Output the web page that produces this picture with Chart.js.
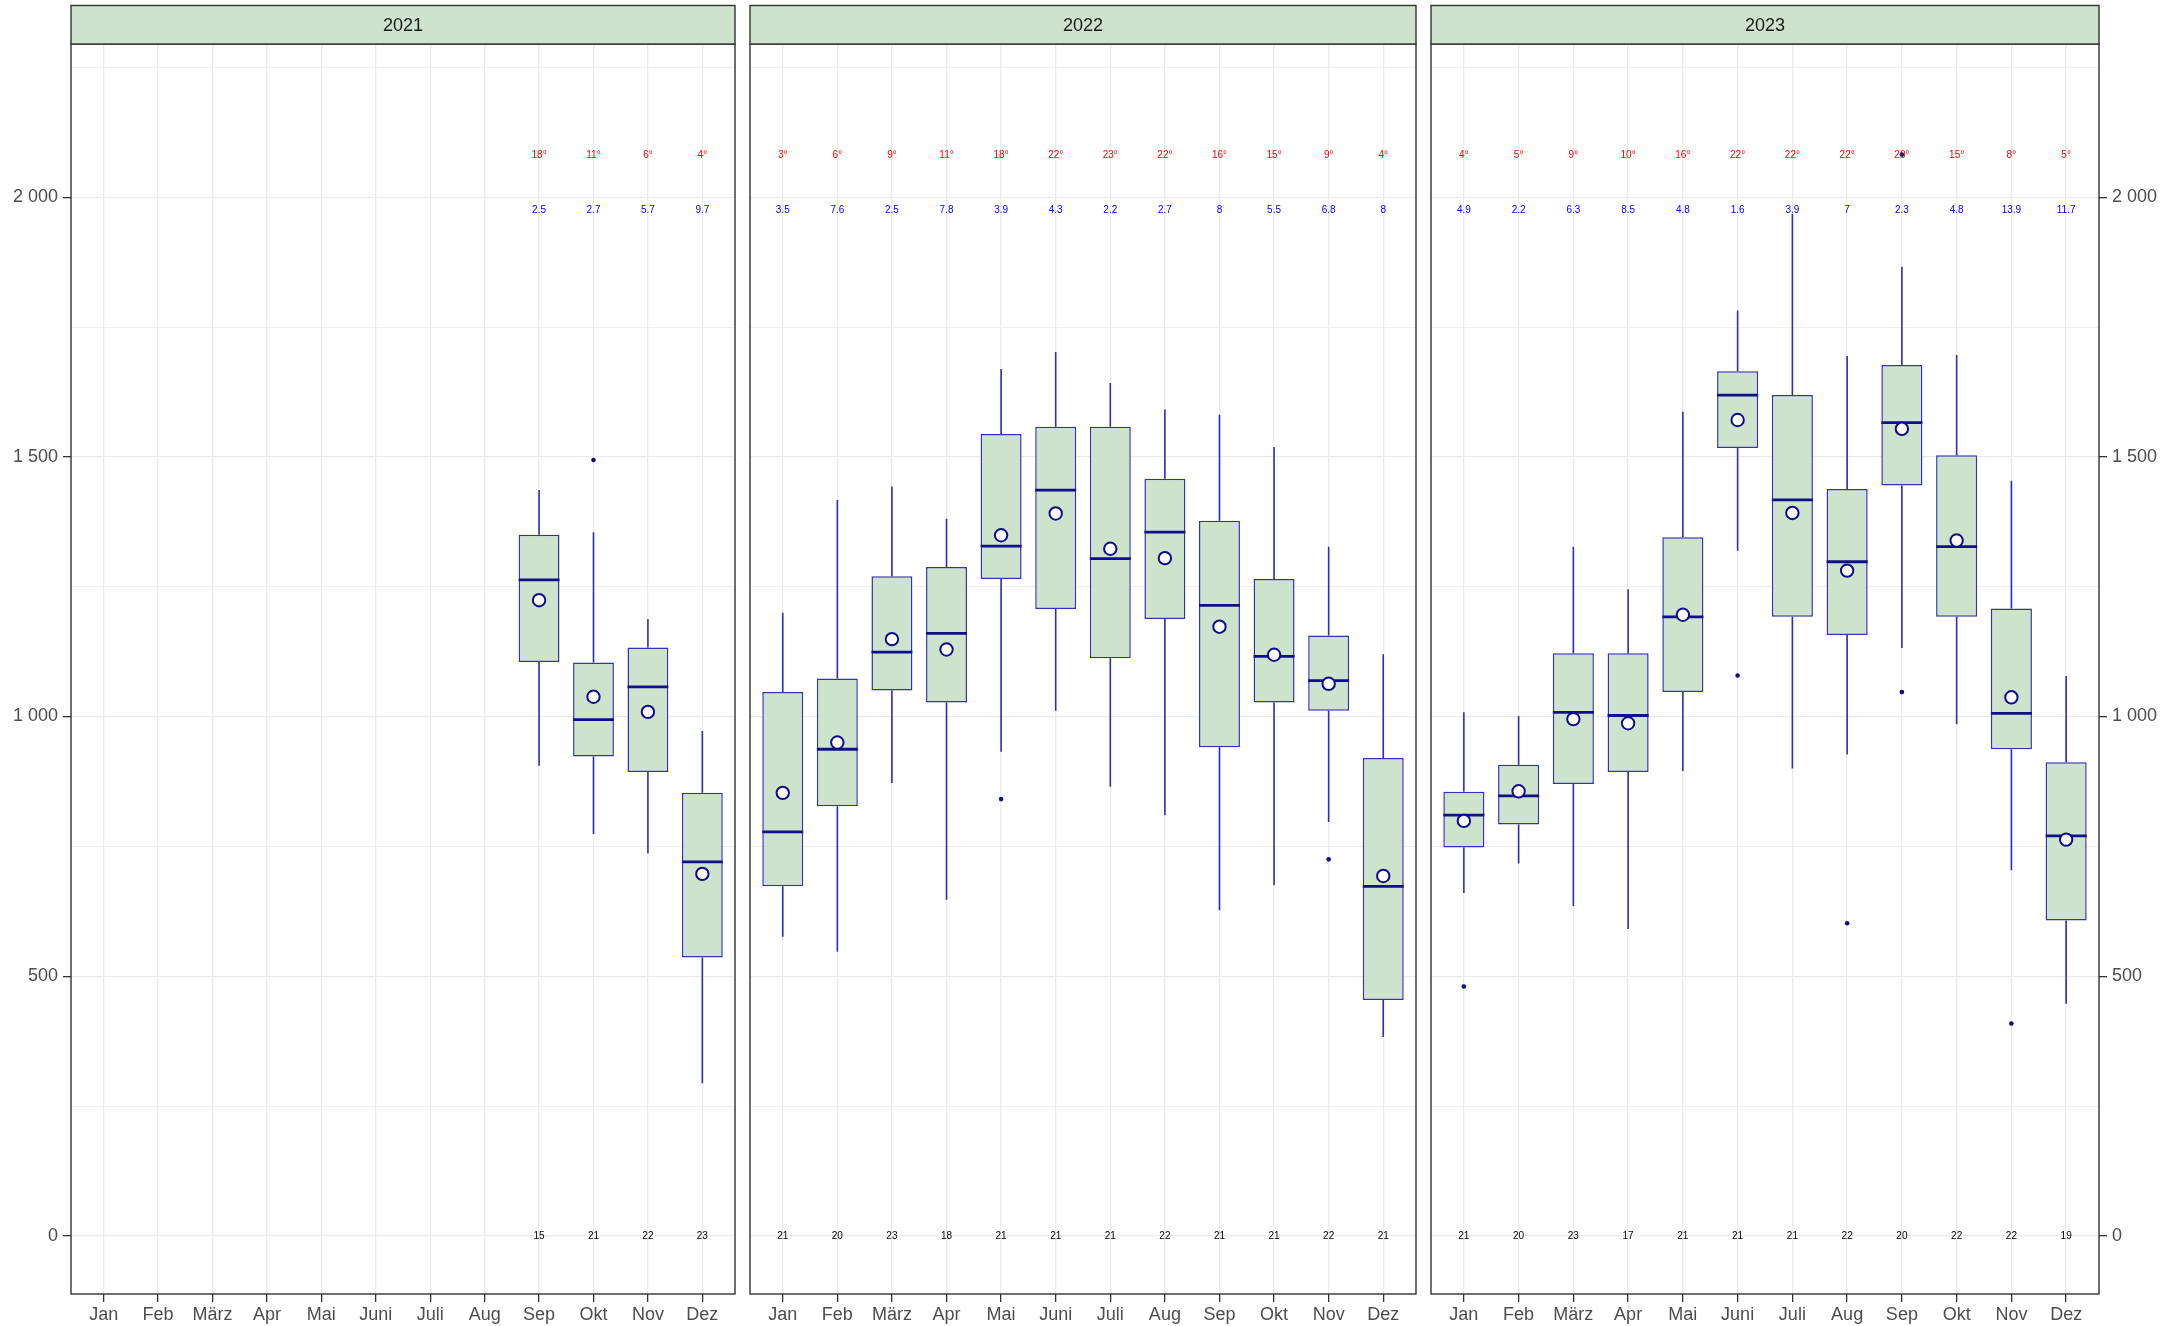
<!DOCTYPE html>
<html><head><meta charset="utf-8">
<script src="https://cdn.jsdelivr.net/npm/chart.js@4/dist/chart.umd.min.js"></script>
<style>
html,body{margin:0;padding:0;background:#fff;}
#wrap{position:relative;width:2175px;height:1326px;}
canvas{position:absolute;left:0;top:0;}
</style></head><body><div id="wrap">
<canvas id="c0" width="2175" height="1326"></canvas>
<canvas id="c1" width="2175" height="1326"></canvas>
<canvas id="c2" width="2175" height="1326"></canvas>
</div>
<script>
// ---------- data ----------
const months = ['Jan','Feb','März','Apr','Mai','Juni','Juli','Aug','Sep','Okt','Nov','Dez'];
const years = ['2021','2022','2023'];
const yTickValues = [0, 500, 1000, 1500, 2000];

const low2021  = [null,null,null,null,null,null,null,null, 905, 774, 736, 294];
const q1_2021  = [null,null,null,null,null,null,null,null,1105, 923, 893, 536];
const med2021  = [null,null,null,null,null,null,null,null,1263, 994,1057, 720];
const q3_2021  = [null,null,null,null,null,null,null,null,1350,1104,1133, 853];
const high2021 = [null,null,null,null,null,null,null,null,1436,1355,1188, 972];
const mean2021 = [null,null,null,null,null,null,null,null,1224,1038,1009, 697];
const out2021  = [['Okt',1494]];
const temp2021 = [null,null,null,null,null,null,null,null,18,11,6,4];
const val2021  = [null,null,null,null,null,null,null,null,'2.5','2.7','5.7','9.7'];
const n2021    = [null,null,null,null,null,null,null,null,15,21,22,23];

const low2022  = [ 576, 547, 872, 647, 932,1011, 865, 810, 627, 675, 797, 383];
const q1_2022  = [ 673, 827,1050,1027,1265,1207,1112,1188, 941,1027,1011, 454];
const med2022  = [ 778, 937,1124,1160,1328,1436,1304,1355,1214,1116,1069, 673];
const q3_2022  = [1047,1073,1270,1288,1544,1558,1558,1458,1377,1265,1156, 920];
const high2022 = [1200,1417,1443,1381,1669,1702,1642,1591,1581,1519,1327,1120];
const mean2022 = [ 853, 950,1149,1129,1349,1391,1323,1305,1173,1119,1063, 693];
const out2022  = [['Mai',841],['Nov',725]];
const temp2022 = [3,6,9,11,18,22,23,22,16,15,9,4];
const val2022  = ['3.5','7.6','2.5','7.8','3.9','4.3','2.2','2.7','8','5.5','6.8','8'];
const n2022    = [21,20,23,18,21,21,21,22,21,21,22,21];

const low2023  = [ 660, 717, 635, 591, 895,1319, 900, 927,1132, 985, 704, 447];
const q1_2023  = [ 748, 792, 870, 893,1047,1517,1192,1157,1445,1192, 937, 607];
const med2023  = [ 810, 847,1008,1002,1192,1619,1417,1298,1566,1327,1006, 770];
const q3_2023  = [ 855, 907,1122,1122,1345,1665,1619,1438,1677,1503,1208, 912];
const high2023 = [1008,1001,1327,1245,1587,1782,1968,1694,1866,1696,1454,1078];
const mean2023 = [ 799, 856, 995, 987,1196,1571,1392,1281,1554,1339,1037, 763];
const out2023  = [['Jan',480],['Juni',1079],['Aug',602],['Sep',1047],['Sep',2082],['Nov',409]];
const temp2023 = [4,5,9,10,16,22,22,22,20,15,8,5];
const val2023  = ['4.9','2.2','6.3','8.5','4.8','1.6','3.9','7','2.3','4.8','13.9','11.7'];
const n2023    = [21,20,23,17,21,21,21,22,20,22,22,19];

// label rows (data-space heights)
const tempLabelY = 2080;
const valLabelY = 1975;
const countLabelY = 0;

const yearData = [
  {low:low2021, q1:q1_2021, med:med2021, q3:q3_2021, high:high2021, mean:mean2021, out:out2021, temp:temp2021, val:val2021, n:n2021},
  {low:low2022, q1:q1_2022, med:med2022, q3:q3_2022, high:high2022, mean:mean2022, out:out2022, temp:temp2022, val:val2022, n:n2022},
  {low:low2023, q1:q1_2023, med:med2023, q3:q3_2023, high:high2023, mean:mean2023, out:out2023, temp:temp2023, val:val2023, n:n2023}
];

// ---------- layout / style ----------
const W = 2175, H = 1326;
const panelLeft = [71, 750, 1431];
const panelRight = [735, 1416, 2099];
const panelTop = 44, stripTop = 5.5, xAxisH = 32;
const FONT = '"Liberation Sans", Arial, Helvetica, sans-serif';
const C = {
  fill: '#cde3cb', boxLine: '#3232b4', whisker: '#2e2eb8', median: '#10108c',
  meanLine: '#0c0c8c', outlier: '#0c0c8c', grid: '#ebebeb', frame: '#333333',
  tick: '#4d4d4d', strip: '#cde3cb', stripText: '#1a1a1a'
};

function fmt(v){
  if (v >= 1000) return Math.floor(v/1000) + ' ' + String(v % 1000).padStart(3,'0');
  return String(v);
}

const extras = {
  id: 'extras',
  afterDatasetDraw(chart, args) {
    if (args.index !== 0) return;
    const Y = chart.options.plugins.extras.data;
    const xs = chart.scales.x, ys = chart.scales.y, ctx = chart.ctx;
    const meta = chart.getDatasetMeta(0);
    const idx = chart.data.datasets[0].data.map(d => d.x);
    ctx.save();
    meta.data.forEach((el, j) => {
      const i = idx[j];
      const x = xs.getPixelForValue(i);
      const half = el.width / 2;
      ctx.strokeStyle = C.whisker; ctx.lineWidth = 1.6;
      ctx.beginPath();
      ctx.moveTo(x, ys.getPixelForValue(Y.q3[i])); ctx.lineTo(x, ys.getPixelForValue(Y.high[i]));
      ctx.moveTo(x, ys.getPixelForValue(Y.q1[i])); ctx.lineTo(x, ys.getPixelForValue(Y.low[i]));
      ctx.stroke();
      ctx.strokeStyle = C.median; ctx.lineWidth = 2.8;
      ctx.beginPath();
      const ym = ys.getPixelForValue(Y.med[i]);
      ctx.moveTo(x - half, ym); ctx.lineTo(x + half, ym);
      ctx.stroke();
    });
    ctx.restore();
  },
  afterDraw(chart) {
    const Y = chart.options.plugins.extras.data;
    const title = chart.options.plugins.extras.title;
    const xs = chart.scales.x, ys = chart.scales.y, ctx = chart.ctx;
    const a = chart.chartArea;
    ctx.save();
    ctx.font = '10px ' + FONT; ctx.textAlign = 'center'; ctx.textBaseline = 'middle';
    months.forEach((m, i) => {
      const x = xs.getPixelForValue(i);
      if (Y.temp[i] != null) { ctx.fillStyle = '#ff0000'; ctx.fillText(Y.temp[i] + '°', x, ys.getPixelForValue(tempLabelY)); }
      if (Y.val[i] != null) { ctx.fillStyle = '#0000ff'; ctx.fillText(Y.val[i], x, ys.getPixelForValue(valLabelY)); }
      if (Y.n[i] != null) { ctx.fillStyle = '#000000'; ctx.fillText(String(Y.n[i]), x, ys.getPixelForValue(countLabelY)); }
    });
    ctx.strokeStyle = C.frame; ctx.lineWidth = 1.4;
    ctx.strokeRect(a.left, a.top, a.right - a.left, a.bottom - a.top);
    ctx.fillStyle = C.strip;
    ctx.fillRect(a.left, stripTop, a.right - a.left, a.top - stripTop);
    ctx.strokeRect(a.left, stripTop, a.right - a.left, a.top - stripTop);
    ctx.fillStyle = C.stripText; ctx.font = '18px ' + FONT;
    ctx.fillText(title, (a.left + a.right) / 2, (stripTop + a.top) / 2 + 1);
    ctx.restore();
  }
};

function makeChart(k) {
  const Y = yearData[k];
  const boxes = [], means = [], outl = [];
  months.forEach((m, i) => {
    if (Y.q1[i] == null) return;
    boxes.push({x: i, y: [Y.q1[i], Y.q3[i]]});
    means.push({x: i, y: Y.mean[i]});
  });
  Y.out.forEach(o => outl.push({x: months.indexOf(o[0]), y: o[1]}));
  const yPos = k === 2 ? 'right' : 'left';
  const showY = k !== 1;
  const yAxisW = k === 0 ? panelLeft[0] : (k === 2 ? W - panelRight[2] : 0);
  return new Chart(document.getElementById('c' + k), {
    type: 'bar',
    data: {
      datasets: [
        {type: 'bar', data: boxes, backgroundColor: C.fill, borderColor: C.boxLine, borderWidth: 1.5,
         borderSkipped: false, barPercentage: 0.75, categoryPercentage: 1, grouped: false, order: 3},
        {type: 'scatter', data: outl, pointRadius: 2.3, pointBackgroundColor: C.outlier, pointBorderColor: C.outlier,
         pointBorderWidth: 0, order: 2},
        {type: 'scatter', data: means, pointRadius: 6.2, pointBackgroundColor: '#ffffff', pointBorderColor: C.meanLine,
         pointBorderWidth: 2, order: 1}
      ]
    },
    options: {
      responsive: false, animation: false, devicePixelRatio: 1,
      layout: {padding: {left: k === 0 ? 0 : panelLeft[k], right: k === 2 ? 0 : W - panelRight[k], top: panelTop, bottom: 0}},
      plugins: {legend: {display: false}, tooltip: {enabled: false},
        extras: {data: Y, title: years[k]}},
      scales: {
        x: {
          type: 'linear', min: -0.6, max: 11.6, offset: false,
          border: {display: false},
          grid: {offset: false, color: C.grid, lineWidth: 1.3, tickColor: C.frame, tickLength: 8, tickWidth: 1.3},
          ticks: {stepSize: 1, includeBounds: false, autoSkip: false, maxRotation: 0, padding: 2,
            color: C.tick, font: {family: FONT, size: 18},
            callback: v => months[v] !== undefined ? months[v] : ''},
          afterFit: s => { s.height = xAxisH; }
        },
        y: {
          type: 'linear', position: yPos, min: -112, max: 2295,
          border: {display: false},
          grid: {color: C.grid, offset: false,
            lineWidth: c => (c.tick && yTickValues.includes(c.tick.value)) ? 1.3 : 0.8,
            tickColor: c => (c.tick && yTickValues.includes(c.tick.value)) ? C.frame : 'rgba(0,0,0,0)',
            tickLength: 8, tickWidth: 1.3, drawTicks: showY},
          ticks: {display: showY, stepSize: 250, includeBounds: false, padding: 5, color: C.tick,
            font: {family: FONT, size: 18},
            callback: v => yTickValues.includes(v) ? fmt(v) : ''},
          afterFit: s => { s.width = yAxisW; }
        }
      }
    },
    plugins: [extras]
  });
}
[0, 1, 2].forEach(makeChart);
</script></body></html>
